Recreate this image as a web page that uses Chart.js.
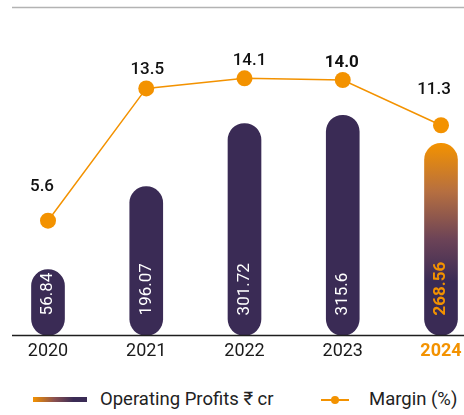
<!DOCTYPE html>
<html>
<head>
<meta charset="utf-8">
<script src="https://cdn.jsdelivr.net/npm/chart.js@4.4.1/dist/chart.umd.min.js"></script>
<style>
  body { margin: 0; background: #fff; font-family: Roboto, "Noto Sans", sans-serif; }
  #wrap { position: relative; width: 464px; height: 415px; }
  #chart-box { position: absolute; left: 0; top: 0; width: 464px; height: 370px; }
  .legend { position: absolute; top: 388px; font-size: 18.5px; color: #222; white-space: nowrap; }
  .swatch { position: absolute; left: 33px; top: 397px; width: 54px; height: 5px;
            background: linear-gradient(to right, #f39200 0%, #8a5050 40%, #3a2b55 75%, #3a2b55 100%); }
  .line-key { position: absolute; left: 321px; top: 399px; width: 28px; height: 2px; background: #f39200; }
  .dot-key { position: absolute; left: 331px; top: 396px; width: 8px; height: 8px; border-radius: 50%; background: #f39200; }
</style>
</head>
<body>
<div id="wrap">
  <div id="chart-box"><canvas id="profitChart"></canvas></div>
  <div class="swatch"></div>
  <div class="legend" style="left:100px">Operating Profits ₹ cr</div>
  <div class="line-key"></div>
  <div class="dot-key"></div>
  <div class="legend" style="left:369px">Margin (%)</div>
</div>
<script>
// chart data
const years = ['2020', '2021', '2022', '2023', '2024'];
const operatingProfits = [56.84, 196.07, 301.72, 315.6, 268.56];
const marginPct = [5.6, 13.5, 14.1, 14.0, 11.3];

const ORANGE = '#f39200';
const PURPLE = '#3a2b55';
const FONT = 'Roboto, "Noto Sans", sans-serif';
const BAR_BASE = -53.4;

// label nudges for the margin values (px): [dx, rise above point]
const marginNudge = [[-6, 30], [1, 14], [5, 13], [-1, 13], [-7, 31]];

function barColor(context) {
  const i = context.dataIndex;
  if (i !== years.length - 1) return PURPLE;
  const chart = context.chart;
  const yScale = chart.scales.y;
  if (!yScale) return PURPLE;
  const top = yScale.getPixelForValue(operatingProfits[i]);
  const bottom = yScale.getPixelForValue(BAR_BASE);
  const g = chart.ctx.createLinearGradient(0, top, 0, bottom);
  g.addColorStop(0, ORANGE);
  g.addColorStop(0.25, '#b66f40');
  g.addColorStop(0.5, '#6c4357');
  g.addColorStop(0.72, PURPLE);
  g.addColorStop(1, PURPLE);
  return g;
}

// guide lines + value labels
const decorPlugin = {
  id: 'decor',
  afterDatasetsDraw(chart) {
    const { ctx, chartArea } = chart;
    const yScale = chart.scales.y;
    ctx.save();
    // top grey rule
    ctx.strokeStyle = '#b3b3b3';
    ctx.lineWidth = 1.5;
    ctx.beginPath();
    ctx.moveTo(12, chartArea.top - 0.5);
    ctx.lineTo(464, chartArea.top - 0.5);
    ctx.stroke();
    // baseline
    ctx.strokeStyle = '#1e1e1e';
    ctx.beginPath();
    ctx.moveTo(12, chartArea.bottom);
    ctx.lineTo(464, chartArea.bottom);
    ctx.stroke();

    // bar values, rotated
    const barMeta = chart.getDatasetMeta(0);
    const baseY = yScale.getPixelForValue(BAR_BASE);
    barMeta.data.forEach((bar, i) => {
      const last = i === years.length - 1;
      ctx.save();
      ctx.translate(bar.x, baseY - 20);
      ctx.rotate(-Math.PI / 2);
      ctx.font = (last ? 'bold ' : '') + '17px ' + FONT;
      ctx.fillStyle = last ? ORANGE : '#ffffff';
      ctx.textAlign = 'left';
      ctx.textBaseline = 'middle';
      ctx.fillText(String(operatingProfits[i]), 0, 0);
      ctx.restore();
    });

    // margin values
    const lineMeta = chart.getDatasetMeta(1);
    lineMeta.data.forEach((pt, i) => {
      const n = marginNudge[i];
      ctx.font = (i === 3 ? 'bold ' : '500 ') + '17px ' + FONT;
      ctx.fillStyle = '#111';
      ctx.textAlign = 'center';
      ctx.textBaseline = 'alphabetic';
      ctx.fillText(marginPct[i].toFixed(1), pt.x + n[0], pt.y - n[1]);
    });
    ctx.restore();
  }
};

const ctx = document.getElementById('profitChart').getContext('2d');
new Chart(ctx, {
  data: {
    labels: years,
    datasets: [
      {
        type: 'bar',
        label: 'Operating Profits ₹ cr',
        data: operatingProfits,
        base: BAR_BASE,
        yAxisID: 'y',
        backgroundColor: barColor,
        barThickness: 33,
        borderRadius: 17,
        borderSkipped: false,
        clip: false,
        order: 2
      },
      {
        type: 'line',
        label: 'Margin (%)',
        data: marginPct,
        yAxisID: 'y1',
        borderColor: ORANGE,
        borderWidth: 1.5,
        pointRadius: 8,
        pointHoverRadius: 8,
        pointBackgroundColor: ORANGE,
        pointBorderWidth: 0,
        tension: 0,
        clip: false,
        order: 1
      }
    ]
  },
  options: {
    responsive: true,
    maintainAspectRatio: false,
    animation: false,
    layout: { padding: { left: 48, right: 23, top: 4, bottom: 11 } },
    plugins: {
      legend: { display: false },
      tooltip: { enabled: false }
    },
    scales: {
      x: {
        offset: false,
        grid: { display: false },
        border: { display: false },
        ticks: {
          padding: -3,
          maxRotation: 0,
          color: c => c.index === 4 ? ORANGE : '#1a1a1a',
          font: c => ({ family: FONT, size: 18, weight: c.index === 4 ? 'bold' : 'normal' })
        }
      },
      y: { display: false, min: BAR_BASE, max: 495.6 },
      y1: { display: false, min: -1.25, max: 18.3 }
    }
  },
  plugins: [decorPlugin]
});
</script>
</body>
</html>
